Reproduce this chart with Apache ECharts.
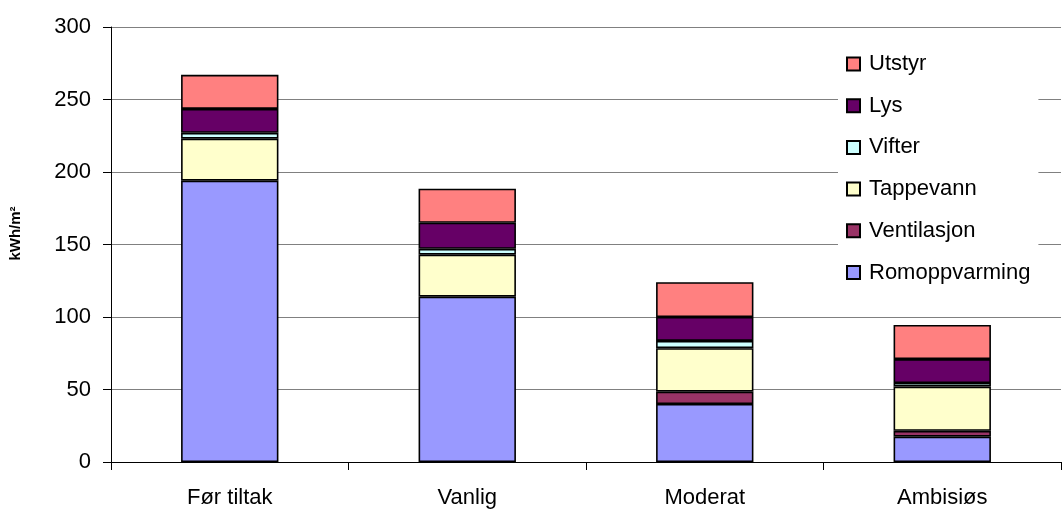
<!DOCTYPE html>
<html>
<head>
<meta charset="utf-8">
<style>
  html, body { margin: 0; padding: 0; background: #fff; }
  #chart { width: 1062px; height: 511px; }
</style>
<script src="https://cdn.jsdelivr.net/npm/echarts@6/dist/echarts.min.js"></script>
</head>
<body>
<div id="chart"></div>
<script>
// Energy use per heated floor area, by end use, for four measure levels
const categories = ['Før tiltak', 'Vanlig', 'Moderat', 'Ambisiøs'];
const romoppvarming = [194, 114, 40, 17.5];
const ventilasjon   = [0, 0, 8.5, 4];
const tappevann     = [29, 29, 30, 30.5];
const vifter        = [4, 4, 5, 2.5];
const lys           = [16.5, 18, 16.5, 16.5];
const utstyr        = [23.5, 23.5, 24, 23.5];
const yTicks = { min: 0, max: 300, interval: 50 };
const yAxisName = 'kWh/m²';

const seriesDefs = [
  ['Romoppvarming', romoppvarming, '#9999FF'],
  ['Ventilasjon',   ventilasjon,   '#993366'],
  ['Tappevann',     tappevann,     '#FFFFCC'],
  ['Vifter',        vifter,        '#CCFFFF'],
  ['Lys',           lys,           '#660066'],
  ['Utstyr',        utstyr,        '#FF8080']
];

const font = 'Liberation Sans, Arial, sans-serif';
const chart = echarts.init(document.getElementById('chart'), null, { renderer: 'canvas' });

chart.setOption({
  animation: false,
  backgroundColor: '#fff',
  grid: { left: 111, right: 1, top: 27, bottom: 49, containLabel: false },
  legend: {
    orient: 'vertical',
    left: 838,
    top: 44,
    padding: [8, 8, 8, 8],
    backgroundColor: '#fff',
    itemWidth: 13,
    itemHeight: 13,
    itemGap: 17.7,
    icon: 'rect',
    data: seriesDefs.map(d => d[0]).reverse(),
    textStyle: { fontFamily: font, fontSize: 22, color: '#000', lineHeight: 24, padding: [0, 0, 0, 4] }
  },
  xAxis: {
    type: 'category',
    data: categories,
    axisLine: { lineStyle: { color: '#000', width: 1 } },
    axisTick: { show: true, alignWithLabel: false, length: 8, lineStyle: { color: '#000' } },
    axisLabel: { fontFamily: font, fontSize: 22, color: '#000', margin: 25 }
  },
  yAxis: {
    type: 'value',
    min: yTicks.min,
    max: yTicks.max,
    interval: yTicks.interval,
    name: yAxisName,
    nameLocation: 'middle',
    nameGap: 88,
    nameTextStyle: { fontFamily: font, fontSize: 15, fontWeight: 'bold', color: '#000', padding: [0, 0, 0, 22] },
    axisLine: { show: true, lineStyle: { color: '#000', width: 1 } },
    axisTick: { show: true, length: 8, lineStyle: { color: '#000' } },
    axisLabel: { fontFamily: font, fontSize: 22, color: '#000', margin: 20 },
    splitLine: { show: true, lineStyle: { color: '#808080', width: 1 } }
  },
  series: seriesDefs.map(([name, values, color]) => ({
    name: name,
    type: 'bar',
    stack: 'total',
    // an empty segment is left out so no extra outline is drawn
    data: values.map(v => (v === 0 ? '-' : v)),
    barWidth: '41%',
    itemStyle: { color: color, borderColor: '#000', borderWidth: 1.6 }
  }))
});
</script>
</body>
</html>
